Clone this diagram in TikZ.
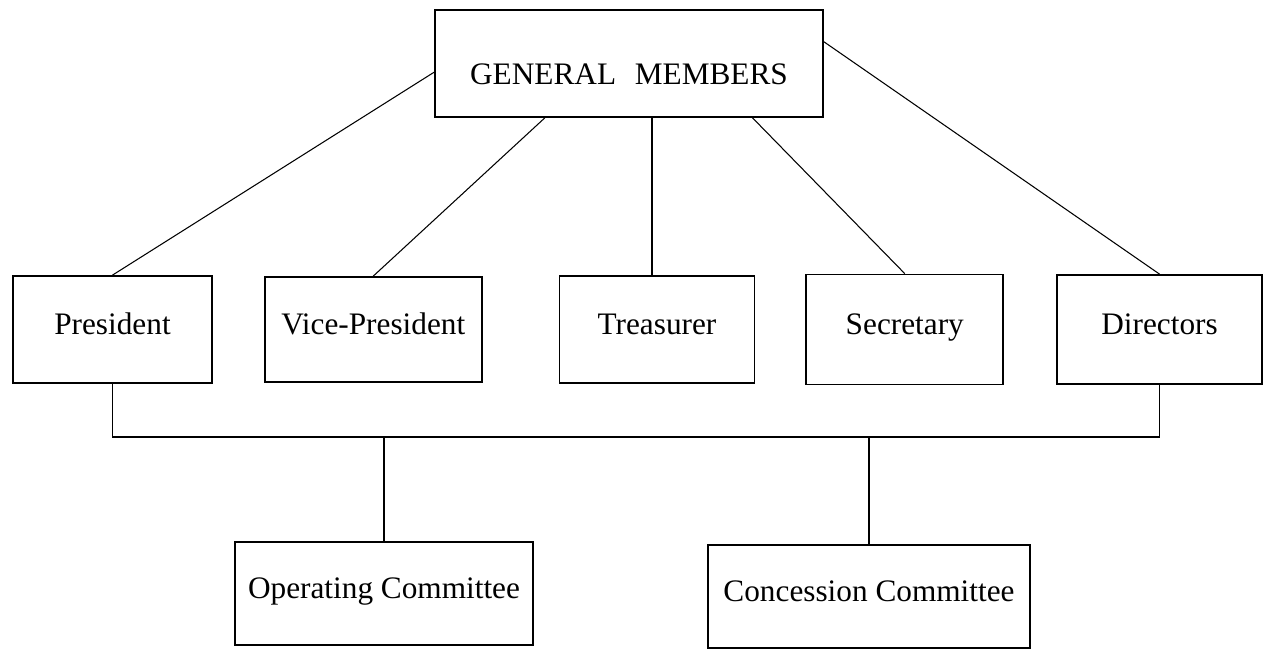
\documentclass[tikz,border=0pt]{standalone}
\usepackage{fontspec}
\setmainfont{Liberation Serif}
\usepackage{tikz}
\usetikzlibrary{positioning, calc}

\begin{document}
\begin{tikzpicture}[
    box/.style={rectangle, draw=black, line width=1pt, inner sep=0pt,
                minimum width=3.98cm, minimum height=2.14cm, align=center,
                text height=1.6ex, text depth=0.4ex,
                font=\fontsize{17.8}{21}\selectfont},
    link/.style={draw=black, line width=0.6pt}
]
\useasboundingbox (0,0) rectangle (25.3,-13.02);

% Top
\node[box, minimum width=7.76cm, text height=26pt] (gm) at (12.58,-1.27) {GENERAL\hspace{0.6em}MEMBERS};

% Officers
\node[box] (pres) at (2.25,-6.59) {President};
\node[box, right=1.02cm of pres, minimum width=4.34cm, minimum height=2.1cm] (vp) {Vice-President};
\node[box, right=1.52cm of vp, minimum width=3.9cm] (tre) {Treasurer};
\node[box, right=1.0cm of tre, minimum width=3.94cm, minimum height=2.2cm] (sec) {Secretary};
\node[box, right=1.04cm of sec, minimum width=4.1cm, minimum height=2.18cm] (dir) {Directors};

% Committees
\node[box, minimum width=5.96cm, minimum height=2.06cm] (oc) at (7.68,-11.87) {Operating Committee};
\node[box, minimum width=6.44cm, minimum height=2.06cm] (cc) at (17.38,-11.93) {Concession Committee};

\coordinate (bus) at (0,-8.74);

% Lines
\draw[link] ($(gm.north west)!0.58!(gm.south west)$) -- (pres.north);
\draw[link] ($(gm.south west)!0.284!(gm.south east)$) -- (vp.north);
\draw[link] ([xshift=-0.1cm]tre.north) -- ([xshift=-0.1cm]tre.north |- gm.south);
\draw[link] ($(gm.south west)!0.817!(gm.south east)$) -- (sec.north);
\draw[link] ($(gm.north east)!0.3!(gm.south east)$) -- (dir.north);

\draw[link] (pres.south) |- (bus -| dir.south) -- (dir.south);
\draw[link] (oc.north) -- (oc.north |- bus);
\draw[link] (cc.north) -- (cc.north |- bus);

\end{tikzpicture}
\end{document}
